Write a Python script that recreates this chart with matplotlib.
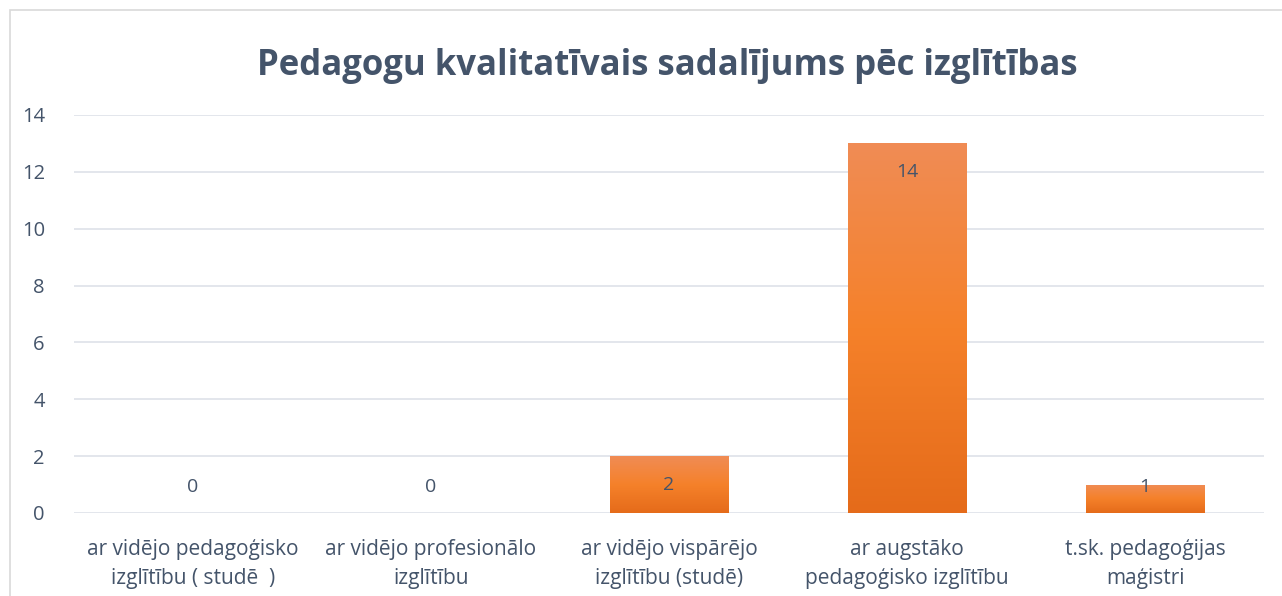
import numpy as np
import matplotlib
matplotlib.use("Agg")
import matplotlib.pyplot as plt
from matplotlib.colors import LinearSegmentedColormap
from matplotlib.patches import Rectangle

categories = [
    "ar vidējo pedagoģisko\nizglītību ( studē  )",
    "ar vidējo profesionālo\nizglītību",
    "ar vidējo vispārējo\nizglītību (studē)",
    "ar augstāko\npedagoģisko izglītību",
    "t.sk. pedagoģijas\nmaģistri",
]
values = [0, 0, 2, 13, 1]
value_labels = ["0", "0", "2", "14", "1"]
yticks = [0, 2, 4, 6, 8, 10, 12, 14]
title = "Pedagogu kvalitatīvais sadalījums pēc izglītības"

W, H = 1282, 596
fig = plt.figure(figsize=(W / 100, H / 100), dpi=100)
plt.rcParams['font.family'] = ['Open Sans', 'DejaVu Sans']
text_color = "#44546A"

# chart border (partially cropped)
fig.patches.append(Rectangle((10 / W, -0.1), 1.2, (H - 10) / H + 0.1, transform=fig.transFigure,
                             fill=False, edgecolor="#D9D9D9", linewidth=1.2))

left, right = 74 / W, 1264 / W
bottom, top = 1 - 513 / H, 1 - 115 / H
ax = fig.add_axes([left, bottom, right - left, top - bottom])

x = np.arange(len(categories))
bars = ax.bar(x, values, width=0.5, color="#F47F2A", zorder=2, linewidth=0)

cmap = LinearSegmentedColormap.from_list("g", ["#E56B1A", "#F5812A", "#F08C55"])
grad = np.linspace(0, 1, 256).reshape(-1, 1)
for b in bars:
    if b.get_height() <= 0:
        continue
    bx, by = b.get_x(), b.get_y()
    im = ax.imshow(grad, cmap=cmap, aspect="auto", origin="lower",
                   extent=[bx, bx + b.get_width(), by, by + b.get_height()], zorder=2.5)
    im.set_clip_path(b)
ax.set_xlim(-0.5, len(categories) - 0.5)
ax.set_ylim(0, 14)

for xi, v, lab in zip(x, values, value_labels):
    ax.text(xi, max(v - 1.02, 0.92), lab, ha="center", va="center",
            fontsize=14, color=text_color, zorder=3)

ax.set_yticks(yticks)
ax.set_yticklabels([str(t) for t in yticks])
ax.set_xticks(x)
ax.set_xticklabels(categories)
ax.tick_params(axis="y", length=0, pad=21, labelsize=14.5, labelcolor=text_color)
ax.tick_params(axis="x", length=0, pad=19, labelsize=15, labelcolor=text_color)
for lab in ax.get_xticklabels():
    lab.set_linespacing(1.5)
ax.grid(axis="y", color="#E1E4EA", linewidth=1.3, zorder=0)
ax.set_axisbelow(True)
for s in ax.spines.values():
    s.set_visible(False)

fig.text(667 / W, 1 - 66 / H, title, ha="center", va="center", fontsize=25,
         fontweight="bold", color=text_color)

fig.savefig("out.png", dpi=100)
